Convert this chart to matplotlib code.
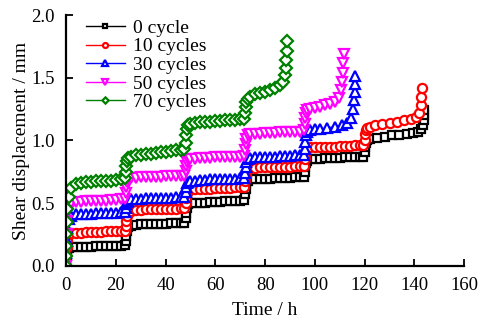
import matplotlib
matplotlib.use('Agg')
import matplotlib.pyplot as plt

plt.rcParams['font.family'] = ['Liberation Serif', 'DejaVu Serif']
plt.rcParams['mathtext.fontset'] = 'stix'

# 0 cycle
t0 = [0, 0, 0.2, 0.5, 1, 2, 4, 6, 8, 10, 12, 14, 16, 18, 20, 22, 23.5,
      24, 24.2, 24.5, 25, 26, 28, 30, 32, 34, 36, 38, 40, 42, 44, 46, 47.5,
      48, 48.2, 48.5, 49, 50, 52, 54, 56, 58, 60, 62, 64, 66, 68, 70, 71.5,
      72, 72.2, 72.5, 73, 74, 76, 78, 80, 82, 84, 86, 88, 90, 92, 94, 95.5,
      96, 96.2, 96.5, 97, 98, 100, 102, 104, 106, 108, 110, 112, 114, 116, 118, 119.5,
      120, 120.2, 120.5, 121, 122, 125, 128, 131, 134, 137, 139.5, 141.5, 142.8, 143.5, 144, 144, 144]
d0 = [0.00, 0.05, 0.09, 0.12, 0.14, 0.15, 0.15, 0.15, 0.15, 0.15, 0.155, 0.155, 0.155, 0.16, 0.16, 0.16, 0.165,
      0.20, 0.24, 0.28, 0.31, 0.32, 0.325, 0.33, 0.33, 0.33, 0.335, 0.335, 0.335, 0.34, 0.34, 0.34, 0.345,
      0.38, 0.42, 0.46, 0.49, 0.50, 0.50, 0.505, 0.505, 0.51, 0.51, 0.51, 0.515, 0.515, 0.52, 0.52, 0.525,
      0.57, 0.61, 0.65, 0.68, 0.69, 0.69, 0.69, 0.695, 0.695, 0.70, 0.70, 0.70, 0.70, 0.705, 0.705, 0.71,
      0.75, 0.79, 0.82, 0.84, 0.85, 0.855, 0.855, 0.86, 0.86, 0.86, 0.86, 0.865, 0.865, 0.865, 0.87, 0.87,
      0.91, 0.95, 0.98, 1.00, 1.01, 1.02, 1.03, 1.04, 1.045, 1.05, 1.06, 1.07, 1.09, 1.12, 1.16, 1.20, 1.24]

# 10 cycles
t10 = [0, 0, 0.2, 0.5, 1, 2, 4, 6, 8, 10, 12, 14, 16, 18, 20, 22, 23.5,
       24, 24.2, 24.5, 25, 26, 28, 30, 32, 34, 36, 38, 40, 42, 44, 46, 47.5,
       48, 48.2, 48.5, 49, 50, 52, 54, 56, 58, 60, 62, 64, 66, 68, 70, 71.5,
       72, 72.2, 72.5, 73, 74, 76, 78, 80, 82, 84, 86, 88, 90, 92, 94, 95.5,
       96, 96.2, 96.5, 97, 98, 100, 102, 104, 106, 108, 110, 112, 114, 116, 118, 119.5,
       120, 120.2, 120.5, 121, 122, 124, 127, 130, 133, 136, 138.5, 140.5, 142, 142.5, 142.8, 143]
d10 = [0.00, 0.08, 0.15, 0.21, 0.25, 0.26, 0.265, 0.265, 0.27, 0.27, 0.27, 0.27, 0.275, 0.275, 0.275, 0.28, 0.28,
       0.32, 0.36, 0.40, 0.43, 0.44, 0.445, 0.445, 0.45, 0.45, 0.45, 0.45, 0.455, 0.455, 0.455, 0.46, 0.46,
       0.50, 0.54, 0.58, 0.60, 0.61, 0.61, 0.615, 0.615, 0.615, 0.62, 0.62, 0.62, 0.62, 0.625, 0.625, 0.63,
       0.68, 0.72, 0.75, 0.77, 0.78, 0.78, 0.785, 0.785, 0.785, 0.79, 0.79, 0.79, 0.79, 0.795, 0.795, 0.80,
       0.85, 0.89, 0.92, 0.94, 0.945, 0.945, 0.95, 0.95, 0.95, 0.95, 0.955, 0.955, 0.955, 0.96, 0.96, 0.96,
       1.00, 1.05, 1.08, 1.10, 1.11, 1.12, 1.13, 1.14, 1.15, 1.16, 1.17, 1.19, 1.22, 1.28, 1.35, 1.42]

# 30 cycles
t30 = [0, 0, 0.2, 0.5, 1, 2, 4, 6, 8, 10, 12, 14, 16, 18, 20, 22, 23.5,
       24, 24.2, 24.5, 25, 26, 28, 30, 32, 34, 36, 38, 40, 42, 44, 46, 47.5,
       48, 48.2, 48.5, 49, 50, 52, 54, 56, 58, 60, 62, 64, 66, 68, 70, 71.5,
       72, 72.2, 72.5, 73, 74, 76, 78, 80, 82, 84, 86, 88, 90, 92, 94, 95.5,
       96, 96.2, 96.5, 97, 98, 100, 102, 105, 108, 111, 113, 114.5, 115.3, 115.8, 116, 116.2, 116.3]
d30 = [0.00, 0.10, 0.20, 0.30, 0.37, 0.40, 0.41, 0.41, 0.415, 0.415, 0.42, 0.42, 0.42, 0.425, 0.425, 0.43, 0.43,
       0.46, 0.49, 0.51, 0.52, 0.53, 0.535, 0.535, 0.54, 0.54, 0.54, 0.545, 0.545, 0.545, 0.55, 0.55, 0.55,
       0.59, 0.63, 0.66, 0.67, 0.68, 0.68, 0.685, 0.685, 0.69, 0.69, 0.69, 0.69, 0.695, 0.695, 0.70, 0.70,
       0.74, 0.79, 0.83, 0.85, 0.86, 0.865, 0.865, 0.87, 0.87, 0.87, 0.875, 0.875, 0.875, 0.88, 0.88, 0.885,
       0.93, 0.99, 1.04, 1.07, 1.08, 1.09, 1.09, 1.10, 1.11, 1.12, 1.14, 1.18, 1.25, 1.32, 1.39, 1.45, 1.51]

# 50 cycles
t50 = [0, 0, 0.2, 0.5, 1, 2, 4, 6, 8, 10, 12, 14, 16, 18, 20, 22, 23.5,
       24, 24.2, 24.5, 25, 26, 28, 30, 32, 34, 36, 38, 40, 42, 44, 46, 47.5,
       48, 48.2, 48.5, 49, 50, 52, 54, 56, 58, 60, 62, 64, 66, 68, 70, 71.5,
       72, 72.2, 72.5, 73, 74, 76, 78, 80, 82, 84, 86, 88, 90, 92, 94, 95.5,
       96, 96.2, 96.5, 97, 98, 100, 102, 104, 106, 108, 109.5, 110.5, 111, 111.3, 111.5, 111.7]
d50 = [0.00, 0.12, 0.25, 0.36, 0.45, 0.50, 0.51, 0.51, 0.515, 0.515, 0.52, 0.52, 0.52, 0.525, 0.525, 0.53, 0.53,
       0.58, 0.63, 0.67, 0.69, 0.70, 0.70, 0.705, 0.705, 0.71, 0.71, 0.71, 0.715, 0.715, 0.715, 0.72, 0.72,
       0.76, 0.80, 0.83, 0.85, 0.855, 0.855, 0.86, 0.86, 0.86, 0.865, 0.865, 0.865, 0.87, 0.87, 0.87, 0.875,
       0.92, 0.97, 1.01, 1.04, 1.05, 1.055, 1.055, 1.06, 1.06, 1.06, 1.065, 1.065, 1.065, 1.07, 1.07, 1.08,
       1.13, 1.18, 1.22, 1.24, 1.25, 1.26, 1.27, 1.28, 1.29, 1.31, 1.34, 1.40, 1.47, 1.54, 1.62, 1.69]

# 70 cycles
t70 = [0, 0, 0, 0, 0.2, 0.5, 1, 2, 4, 6, 8, 10, 12, 14, 16, 18, 20, 22, 23.5,
       24, 24.2, 24.5, 25, 26, 28, 30, 32, 34, 36, 38, 40, 42, 44, 46, 47.5,
       48, 48.2, 48.5, 49, 50, 52, 54, 56, 58, 60, 62, 64, 66, 68, 70, 71.5,
       72, 72.2, 72.5, 73, 74, 76, 78, 80, 82, 84, 86, 87, 87.8, 88.2, 88.5, 88.7, 88.8]
d70 = [0.00, 0.08, 0.16, 0.25, 0.35, 0.45, 0.55, 0.62, 0.65, 0.66, 0.67, 0.67, 0.675, 0.675, 0.68, 0.68, 0.685, 0.69, 0.70,
       0.75, 0.80, 0.84, 0.86, 0.87, 0.88, 0.885, 0.89, 0.895, 0.90, 0.905, 0.91, 0.915, 0.92, 0.925, 0.93,
       0.98, 1.04, 1.09, 1.12, 1.13, 1.14, 1.145, 1.15, 1.15, 1.155, 1.155, 1.16, 1.16, 1.165, 1.17, 1.17,
       1.22, 1.27, 1.31, 1.33, 1.35, 1.37, 1.38, 1.39, 1.40, 1.42, 1.44, 1.47, 1.52, 1.58, 1.64, 1.71, 1.79]

series = [
    (t0, d0, '0 cycle', 'black', 's', 5.6),
    (t10, d10, '10 cycles', 'red', 'o', 6.6),
    (t30, d30, '30 cycles', 'blue', '^', 7.0),
    (t50, d50, '50 cycles', 'magenta', 'v', 7.0),
    (t70, d70, '70 cycles', 'green', 'D', 5.8),
]

fontsize = 14

fig = plt.figure(figsize=(4.79, 3.27), dpi=100)
ax = fig.add_axes([0.138, 0.187, 0.831, 0.767])

for t, d, label, color, marker, ms in series:
    ax.plot(t, d, color=color, marker=marker, markersize=ms, markerfacecolor='white',
            markeredgecolor=color, markeredgewidth=1.6, linewidth=1.0, label=label)

ax.set_xlim(0, 160)
ax.set_ylim(0, 2.0)
ax.set_xticks(range(0, 161, 20))
ax.set_yticks([0.0, 0.5, 1.0, 1.5, 2.0])
ax.set_yticklabels(['0.0', '0.5', '1.0', '1.5', '2.0'])

for side in ['top', 'right']:
    ax.spines[side].set_visible(False)
for side in ['left', 'bottom']:
    ax.spines[side].set_linewidth(1.6)

ax.tick_params(direction='in', length=5, width=1.3, labelsize=fontsize - 0.5, pad=8)
ax.set_xlabel('Time / h', fontsize=fontsize, labelpad=6)
ax.set_ylabel('Shear displacement / mm', fontsize=fontsize, labelpad=1)

leg = ax.legend(loc='upper left', bbox_to_anchor=(0.02, 1.03), frameon=False,
                fontsize=fontsize, handlelength=2.0, handletextpad=0.45,
                labelspacing=0.05, markerscale=0.55, borderaxespad=0.2)

fig.savefig('out.png', dpi=100)
